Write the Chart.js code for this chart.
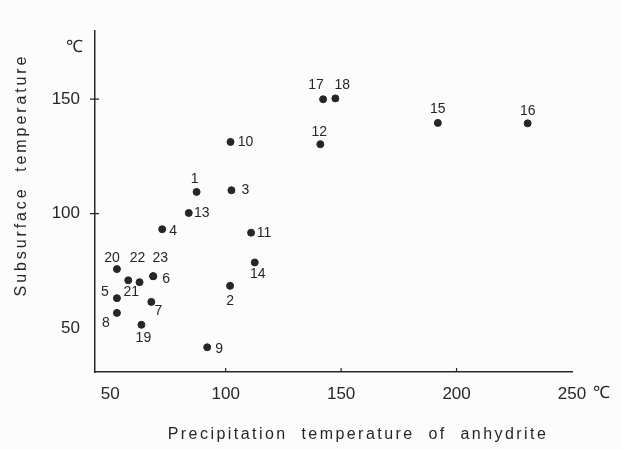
<!DOCTYPE html>
<html>
<head>
<meta charset="utf-8">
<script src="https://cdn.jsdelivr.net/npm/chart.js@4.4.0/dist/chart.umd.min.js"></script>
<style>
	body { margin: 0; background: #fcfcfc; }
	#wrap { width: 622px; height: 449px; }
</style>
</head>
<body>
<div id="wrap"><canvas id="myChart" width="622" height="449"></canvas></div>
<script>
// spring numbers and their two temperatures
var springIds = ["1", "2", "3", "4", "5", "6", "7", "8", "9", "10", "11", "12",
	"13", "14", "15", "16", "17", "18", "19", "20", "21", "22", "23"];
var precipTemp = [87.4, 101.9, 102.5, 72.5, 52.9, 68.6, 67.8, 52.9, 92.0, 102.1, 111.0, 141.0,
	84.0, 112.6, 191.9, 230.8, 142.2, 147.5, 63.5, 52.9, 57.8, 62.7, 68.6];
var subsurfaceTemp = [109.5, 68.5, 110.2, 93.2, 63.1, 72.7, 61.5, 56.7, 41.7, 131.3, 91.7, 130.3,
	100.3, 78.7, 139.6, 139.4, 149.9, 150.3, 51.5, 75.8, 70.9, 70.1, 72.7];

var xTicks = [50, 100, 150, 200, 250];
var yTicks = [50, 100, 150];
// tick marks only drawn at these
var xMarks = [100, 150, 200];
var yMarks = [100, 150];

var xTitle = "Precipitation  temperature  of  anhydrite";
var yTitle = "Subsurface  temperature";
var unit = "\u2103";

// where each number sits next to its dot (px)
var labelOffsets = [
	[-2, -13], [0, 15], [14, 0], [11, 2], [-12, -6], [13, 3], [7, 9], [-11, 10],
	[12, 2], [15, 0], [13, 0], [-1, -12], [13, 0], [3, 12], [0, -14], [0, -12],
	[-7, -14], [7, -13], [2, 13], [-5, -11], [3, 12], [-2, -24], [7, -18]
];

var ink = "#262626";
var points = [];
for (let i = 0; i < springIds.length; i++) {
	points.push({ x: precipTemp[i], y: subsurfaceTemp[i] });
}

var textPlugin = {
	id: "textPlugin",
	afterDatasetsDraw(chart) {
		var ctx = chart.ctx;
		var area = chart.chartArea;
		var meta = chart.getDatasetMeta(0);
		var xs = chart.scales.x;
		var ys = chart.scales.y;
		ctx.save();
		ctx.fillStyle = ink;
		ctx.strokeStyle = ink;
		ctx.lineWidth = 1.2;

		// small tick marks, x ones point up into the plot
		ctx.beginPath();
		xMarks.forEach(function (v) {
			var px = xs.getPixelForValue(v);
			ctx.moveTo(px, area.bottom);
			ctx.lineTo(px, area.bottom - 4);
		});
		yMarks.forEach(function (v) {
			var py = ys.getPixelForValue(v);
			ctx.moveTo(area.left - 5, py);
			ctx.lineTo(area.left + 4, py);
		});
		ctx.stroke();

		ctx.textAlign = "center";
		ctx.textBaseline = "middle";

		// point numbers
		ctx.font = "14px 'Liberation Sans'";
		meta.data.forEach(function (pt, i) {
			ctx.fillText(springIds[i], pt.x + labelOffsets[i][0], pt.y + labelOffsets[i][1]);
		});

		// units
		ctx.font = "17px 'Liberation Sans'";
		ctx.fillText(unit, area.left - 21, area.top + 16);
		ctx.fillText(unit, area.right + 29, area.bottom + 21);

		// axis titles
		ctx.font = "16px 'Liberation Sans'";
		ctx.letterSpacing = "2.45px";
		ctx.fillText(xTitle, 358, 435);
		ctx.letterSpacing = "2.9px";
		ctx.translate(22, 175);
		ctx.rotate(-Math.PI / 2);
		ctx.fillText(yTitle, 0, 0);
		ctx.restore();
	}
};

var myChart = document.querySelector("#myChart").getContext("2d");
var scatterChart = new Chart(myChart, {
	type: "scatter",
	data: {
		datasets: [
			{
				data: points,
				backgroundColor: ink,
				borderColor: ink,
				pointRadius: 3.5,
				pointHoverRadius: 3.5,
			},
		],
	},
	options: {
		responsive: false,
		animation: false,
		events: [],
		layout: { padding: { left: 0, right: 50, top: 31, bottom: 0 } },
		plugins: {
			legend: { display: false },
			tooltip: { enabled: false },
		},
		scales: {
			x: {
				type: "linear",
				min: 43.4,
				max: 250,
				afterBuildTicks: (axis) => {
					axis.ticks = xTicks.map((v) => ({ value: v }));
				},
				afterFit: (axis) => {
					axis.height = 77;
				},
				border: { color: ink, width: 1.5 },
				grid: { display: false },
				ticks: {
					color: ink,
					padding: 4,
					font: { family: "'Liberation Sans'", size: 17 },
				},
			},
			y: {
				type: "linear",
				min: 30.9,
				max: 179.7,
				afterBuildTicks: (axis) => {
					axis.ticks = yTicks.map((v) => ({ value: v }));
				},
				afterFit: (axis) => {
					axis.width = 95;
				},
				border: { color: ink, width: 1.5 },
				grid: { display: false },
				ticks: {
					color: ink,
					padding: 7,
					font: { family: "'Liberation Sans'", size: 17 },
				},
			},
		},
	},
	plugins: [textPlugin],
});
</script>
</body>
</html>
